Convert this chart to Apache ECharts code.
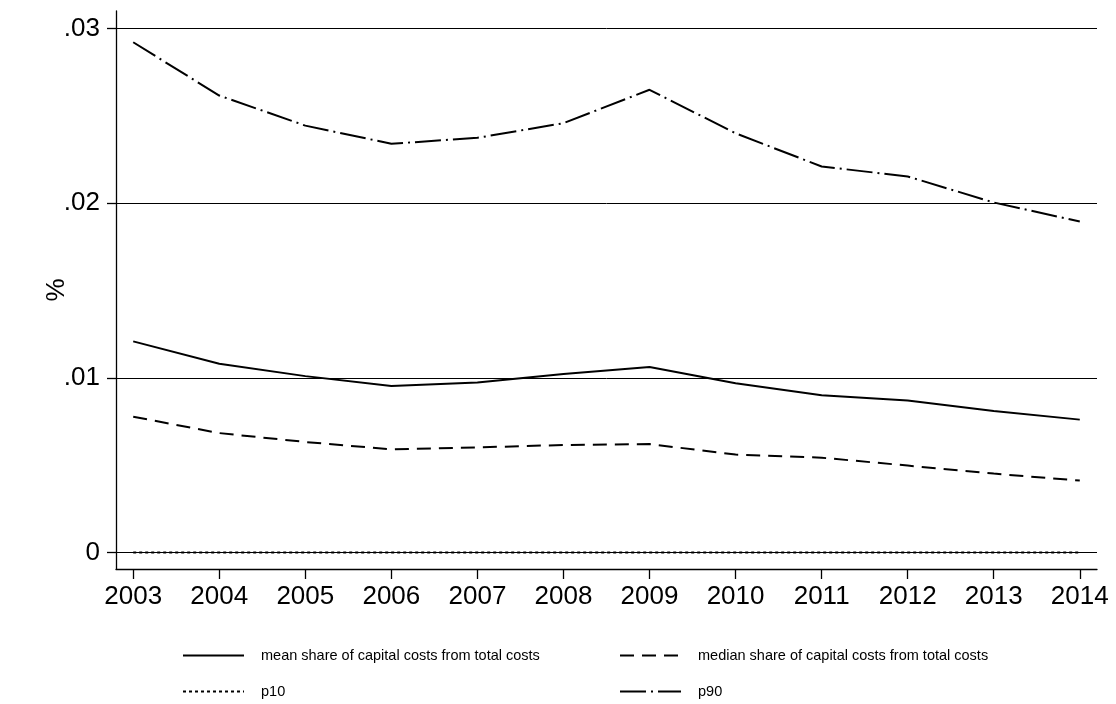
<!DOCTYPE html>
<html>
<head>
<meta charset="utf-8">
<script src="https://cdn.jsdelivr.net/npm/echarts@6/dist/echarts.min.js"></script>
<style>html,body{margin:0;padding:0;background:#fff}#c{width:1116px;height:704px}</style>
</head>
<body>
<div id="c"></div>
<script>
const years = [2003,2004,2005,2006,2007,2008,2009,2010,2011,2012,2013,2014];
const meanShare = [0.01209,0.01081,0.01010,0.00953,0.00973,0.01022,0.01062,0.00969,0.00900,0.00871,0.00810,0.00761];
const medianShare = [0.00778,0.00684,0.00633,0.00591,0.00602,0.00616,0.00621,0.00561,0.00543,0.00498,0.00452,0.00412];
const p10 = [0,0,0,0,0,0,0,0,0,0,0,0];
const p90 = [0.02921,0.02616,0.02444,0.02340,0.02374,0.02458,0.02649,0.02400,0.02210,0.02153,0.02004,0.01895];
const yTicks = [0,0.01,0.02,0.03];
const yTickLabels = ['0','.01','.02','.03'];
const names = ['mean share of capital costs from total costs','median share of capital costs from total costs','p10','p90'];

const pair = arr => years.map((y,i)=>[y,arr[i]]);
const FONT = 'Liberation Sans';
const lineS = (type) => ({color:'#000', width:2, type:type});

const chart = echarts.init(document.getElementById('c'), null, {renderer:'canvas'});
const legendBase = (name, left, top) => ({
  data:[name], left:left, top:top, itemWidth:61, itemHeight:14, orient:'horizontal',
  selectedMode:false,
  itemStyle:{opacity:0, color:'rgba(0,0,0,0)', borderWidth:0},
  textStyle:{fontFamily:FONT, fontSize:14.5, color:'#000', padding:[0,0,0,12]}
});
chart.setOption({
  animation:false,
  backgroundColor:'#fff',
  grid:{left:116, right:19, top:11, bottom:135, containLabel:false},
  legend:[
    legendBase(names[0],177,643),
    legendBase(names[1],614,643),
    legendBase(names[2],177,679),
    legendBase(names[3],614,679)
  ],
  xAxis:{
    type:'value', min:2002.8, max:2014.2,
    axisLine:{show:true, onZero:false, lineStyle:{color:'#000', width:1.3}},
    axisTick:{show:true, customValues:years, length:10, lineStyle:{color:'#000', width:1.3}},
    axisLabel:{customValues:years, formatter:v=>String(v), fontFamily:FONT, fontSize:26, color:'#000', margin:15},
    splitLine:{show:false}
  },
  yAxis:{
    type:'value', min:-0.00094, max:0.031,
    name:'%', nameLocation:'middle', nameRotate:90, nameGap:46, nameMoveOverlap:false,
    nameTextStyle:{fontFamily:FONT, fontSize:26, color:'#000'},
    axisLine:{show:true, onZero:false, lineStyle:{color:'#000', width:1.3}},
    axisTick:{show:true, customValues:yTicks, length:9, lineStyle:{color:'#000', width:1.3}},
    axisLabel:{customValues:yTicks, formatter:v=>{const i=yTicks.findIndex(t=>Math.abs(t-v)<1e-9);return i>=0?yTickLabels[i]:'';}, fontFamily:FONT, fontSize:26, color:'#000', margin:16},
    splitLine:{show:false}
  },
  series:[
    {name:names[0], type:'line', data:pair(meanShare), symbol:'none', lineStyle:lineS('solid'), itemStyle:{color:'#000'},
     markLine:{silent:true, symbol:'none', label:{show:false}, lineStyle:{color:'#000', width:1, type:'solid'},
       data:yTicks.map(t=>({yAxis:t}))}, z:3},
    {name:names[1], type:'line', data:pair(medianShare), symbol:'none', lineStyle:lineS([14,8]), itemStyle:{color:'#000'}, z:3},
    {name:names[2], type:'line', data:pair(p10), symbol:'none', lineStyle:lineS([3,3]), itemStyle:{color:'#000'}, z:4},
    {name:names[3], type:'line', data:pair(p90), symbol:'none', lineStyle:lineS([26,5,2,5]), itemStyle:{color:'#000'}, z:3}
  ]
});
</script>
</body>
</html>
